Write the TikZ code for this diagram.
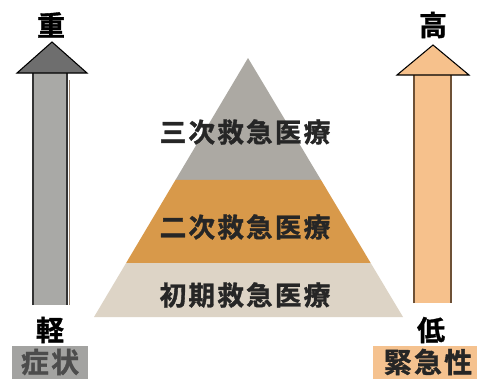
\documentclass[tikz,border=0pt]{standalone}
\usepackage{fontspec}
\usetikzlibrary{calc}
\newfontfamily\jpb[FakeBold=1.2]{Noto Sans CJK JP Bold}
\newfontfamily\jpbs[LetterSpace=8,FakeBold=1.2]{Noto Sans CJK JP Bold}
\definecolor{topgray}{HTML}{ACA9A3}
\definecolor{midorange}{HTML}{D8994A}
\definecolor{basebeige}{HTML}{DDD4C6}
\definecolor{arrgray}{HTML}{A9A9A6}
\definecolor{headgray}{HTML}{6E6E6E}
\definecolor{arrorange}{HTML}{F6C18C}
\definecolor{edgebrown}{HTML}{6E5136}
\definecolor{labgray}{HTML}{A3A3A1}
\definecolor{laborange}{HTML}{F5C28F}
\begin{document}
\begin{tikzpicture}[x=0.75pt,y=-0.75pt,
  lvl/.style={font=\jpbs\fontsize{20}{22}\selectfont, text=black!85, inner sep=0pt},
  endlab/.style={font=\jpb\fontsize{21}{23}\selectfont, inner sep=0pt},
  boxlab/.style={font=\jpbs\fontsize{21}{23}\selectfont, inner sep=0pt}]
\useasboundingbox (0,0) rectangle (477,379);
\fill[white] (0,0) rectangle (477,379);
% pyramid
\coordinate (apex) at (248,58);
\coordinate (bl) at (94,317);
\coordinate (br) at (403,317);
\fill[topgray] (apex) -- ($(apex)!0.471!(bl)$) -- ($(apex)!0.471!(br)$) -- cycle;
\fill[midorange] ($(apex)!0.471!(bl)$) -- ($(apex)!0.792!(bl)$) -- ($(apex)!0.792!(br)$) -- ($(apex)!0.471!(br)$) -- cycle;
\fill[basebeige] ($(apex)!0.792!(bl)$) -- (bl) -- (br) -- ($(apex)!0.792!(br)$) -- cycle;
\node[lvl] (l3) at (245,132) {三次救急医療};
\node[lvl] (l2) at (245,227) {二次救急医療};
\node[lvl] (l1) at (245,295) {初期救急医療};
% left arrow
\fill[arrgray] (33,305) -- (33,73) -- (67,73) -- (67,305) -- cycle;
\draw[gray!40!black, line width=0.8pt] (33,305) -- (33,73) (67,73) -- (67,305);
\draw[edgebrown!70, line width=0.6pt] (69,80) -- (69,305);
\filldraw[fill=headgray, draw=black, line width=0.8pt, line join=miter] (33,73) -- (17,73) -- (52,42) -- (87,73) -- (67,73) -- cycle;
\node[endlab] (heavy) at (51,25) {重};
\node[endlab] (light) at (50,330) {軽};
\fill[labgray] (12,346) rectangle (88,379);
\node[boxlab, text=black!70] (sym) at (50,362) {症状};
% right arrow
\fill[arrorange] (414,303) -- (414,75) -- (451,75) -- (451,303) -- cycle;
\draw[edgebrown, line width=0.8pt] (414,303) -- (414,75) (451,75) -- (451,303);
\filldraw[fill=arrorange, draw=black, line width=0.8pt, line join=miter] (414,75) -- (397,75) -- (433,45) -- (469,75) -- (451,75) -- cycle;
\node[endlab] (high) at (433,25) {高};
\node[endlab] (low) at (431,330) {低};
\fill[laborange] (373,346) rectangle (477,379);
\node[boxlab, text=black!85] (urg) at (428,362) {緊急性};
\end{tikzpicture}
\end{document}
